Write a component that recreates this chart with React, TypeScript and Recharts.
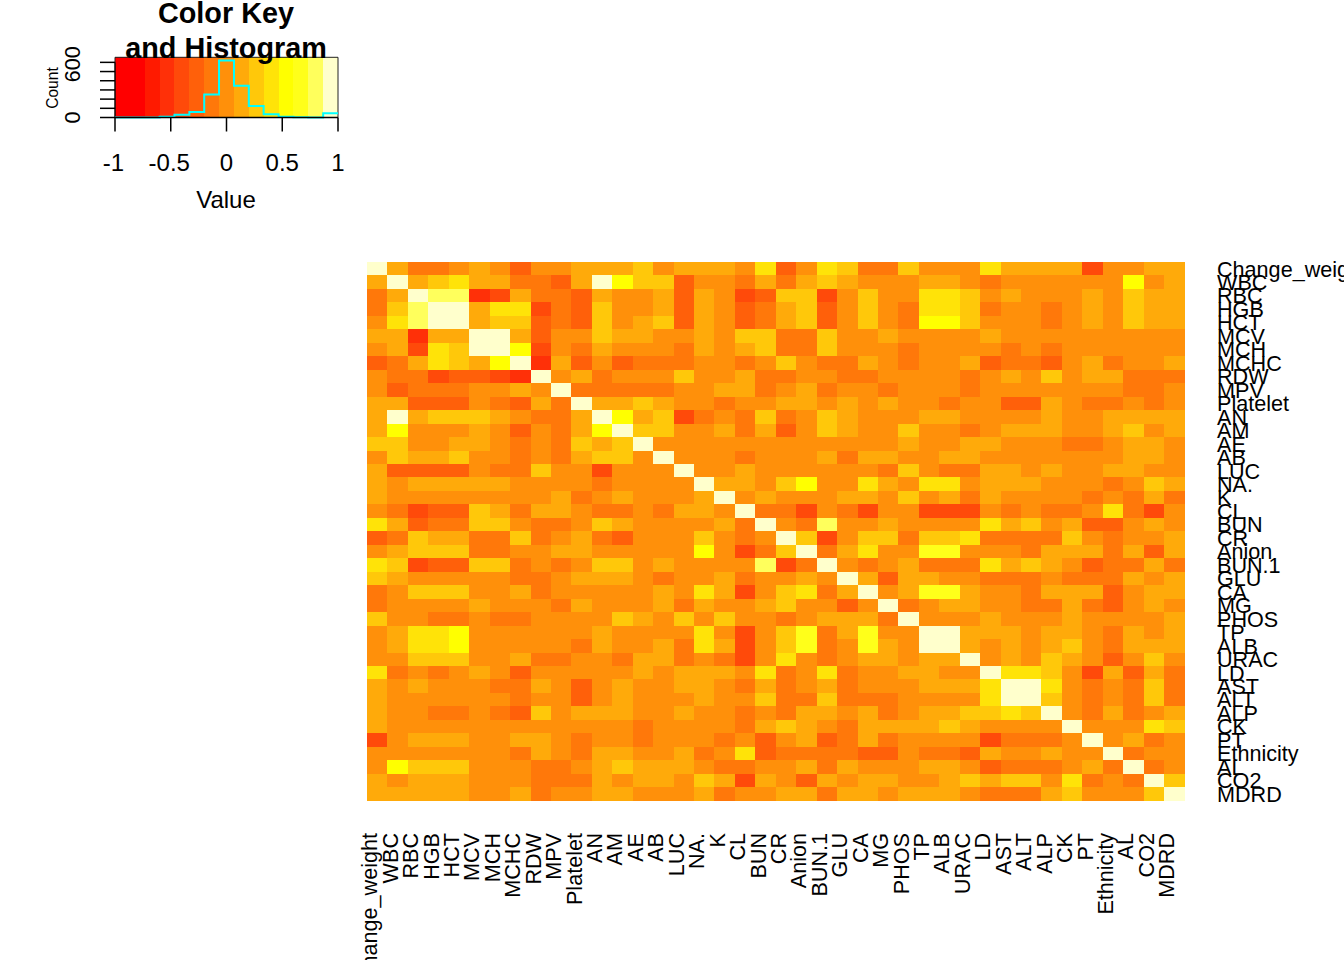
import React from "react";
import {
  ComposedChart,
  ScatterChart,
  Scatter,
  Line,
  XAxis,
  YAxis,
  ReferenceArea,
  ReferenceLine,
} from "recharts";

const variables = [
  "Change_weight", "WBC", "RBC", "HGB", "HCT", "MCV", "MCH", "MCHC", "RDW", "MPV",
  "Platelet", "AN", "AM", "AE", "AB", "LUC", "NA.", "K", "CL", "BUN",
  "CR", "Anion", "BUN.1", "GLU", "CA", "MG", "PHOS", "TP", "ALB", "URAC",
  "LD", "AST", "ALT", "ALP", "CK", "PT", "Ethnicity", "AL", "CO2", "MDRD",
];

// Correlations x 100: each row starts at the diagonal (the matrix is symmetric).
const upperTriangle: number[][] = [
  [100,13,-13,-13,0,13,0,-27,0,0,13,13,13,27,0,13,13,13,0,40,-27,0,40,27,-13,-13,27,0,0,0,40,13,13,13,13,-40,0,0,13,13],
  [100,13,27,40,13,13,-13,-13,-27,13,100,53,27,27,-27,0,0,-13,13,-13,13,27,13,0,0,0,13,13,0,-13,0,0,0,0,0,0,53,0,13],
  [100,80,80,-53,-40,13,-13,-13,-27,13,0,0,13,-27,13,0,-40,-27,27,27,-40,0,27,0,0,40,40,27,0,13,0,0,0,13,0,27,13,13],
  [100,100,13,40,40,-40,-13,-27,27,0,0,13,-27,13,0,-27,-13,13,27,-27,0,27,0,-13,40,40,27,-13,0,0,-13,0,13,0,27,13,13],
  [100,13,27,27,-27,-13,-27,27,0,13,27,-27,13,0,-27,-13,13,27,-27,0,27,0,-13,53,53,27,0,0,0,-13,0,13,0,27,13,13],
  [100,100,13,-27,0,0,27,13,13,0,0,13,0,27,27,-13,-13,27,0,0,13,0,0,0,0,13,0,0,0,0,0,0,0,0,0],
  [100,53,-40,0,-13,13,0,0,0,-13,13,0,13,27,-13,-13,27,0,0,0,-13,0,0,0,0,-13,0,-13,0,0,0,0,0,0],
  [100,-53,13,-27,0,-27,-13,-13,-13,0,0,-13,0,27,0,-13,-13,13,0,-13,0,0,13,-27,-13,-13,-27,0,13,-13,0,0,13],
  [100,0,13,-13,0,0,0,27,0,0,13,-13,-13,0,0,-13,-13,0,0,0,0,-13,0,13,0,27,0,13,13,-13,-13,-13],
  [100,-13,-13,-13,-13,-13,0,0,13,13,-13,0,13,-13,0,0,-13,0,0,0,-13,0,0,0,0,0,0,0,-13,-13,0],
  [100,13,13,27,13,0,0,-13,0,0,13,13,0,13,0,13,0,0,-13,0,0,-27,-27,13,0,-13,-13,0,-13,0],
  [100,53,13,27,-40,-13,0,-13,27,-13,0,27,13,0,0,0,13,13,0,0,0,0,13,0,0,13,13,13,13],
  [100,27,27,0,0,13,-13,13,-27,0,27,13,0,0,27,0,0,-13,0,13,13,13,0,0,13,27,0,13],
  [100,0,0,0,0,0,0,0,0,0,0,0,0,13,0,0,13,13,0,0,0,-13,-13,0,13,13,0],
  [100,0,0,0,-13,0,0,0,13,-13,13,13,0,0,13,13,0,0,0,0,0,0,0,13,13,0],
  [100,0,0,13,0,0,0,0,0,0,-13,27,0,-13,-13,13,13,0,13,0,0,13,13,0,0],
  [100,13,13,0,27,53,0,0,40,13,0,40,40,0,13,13,13,0,0,0,-13,0,27,13],
  [100,0,13,0,0,0,13,13,0,27,0,13,-13,13,0,0,0,0,-13,0,-13,13,-13],
  [100,-13,-13,-40,0,-13,-40,0,0,-40,-40,-40,0,-13,0,-13,-13,0,40,-13,-40,0],
  [100,0,-13,80,0,0,13,0,0,0,0,40,13,27,0,13,-27,-27,0,13,0],
  [100,27,-40,0,27,27,-13,27,27,40,-13,-13,-13,-13,27,0,-13,0,0,13],
  [100,-13,13,40,0,0,67,67,0,0,0,-13,13,13,13,-13,13,-27,13],
  [100,0,-13,0,13,-13,-13,-13,40,13,27,13,0,-27,-13,-13,13,-13],
  [100,13,-27,13,13,0,0,-13,-13,-13,0,-13,-13,-13,13,0,13],
  [100,0,13,67,67,13,0,0,-13,13,13,13,-27,0,13,13],
  [100,-13,0,13,13,0,0,-13,-13,13,-13,-27,0,13,0],
  [100,0,0,0,13,0,0,0,13,0,0,0,0,13],
  [100,100,13,13,13,0,13,13,0,-13,13,0,13],
  [100,13,0,13,0,13,27,0,-13,13,13,13],
  [100,0,13,0,27,13,0,-27,0,27,0],
  [100,40,40,27,0,-40,13,-27,13,-13],
  [100,100,40,0,-13,0,-13,27,-13],
  [100,27,0,-13,0,-13,27,-13],
  [100,0,-13,13,-13,0,13],
  [100,0,0,0,40,27],
  [100,0,13,-13,0],
  [100,-13,0,0],
  [100,-13,0],
  [100,27],
  [100],
];

const keyColors = [
  "#FF0000", "#FF0000", "#FF1A00", "#FF3008", "#FF4A0A", "#FF600A", "#FF780A", "#FF900A",
  "#FFAA0A", "#FFC80A", "#FFE308", "#FFFF00", "#FFFF1A", "#FFFF5C", "#FFFFCC",
];
const keyBreaks = [
  -1, -0.867, -0.733, -0.6, -0.467, -0.333, -0.2, -0.067, 0.067, 0.2, 0.333, 0.467, 0.6, 0.733, 0.867, 1,
];
const histCounts = [0, 0, 1, 7, 30, 60, 250, 620, 345, 125, 35, 8, 2, 1, 47];
const keyXTicks = [-1, -0.5, 0, 0.5, 1];
const keyYTicks = [0, 100, 200, 300, 400, 500, 600];
const keyYLabels = [0, 600];

const HEAT = { left: 367, top: 262, right: 1184.5, bottom: 800.7 };
const CELL_W = (HEAT.right - HEAT.left) / variables.length;
const CELL_H = (HEAT.bottom - HEAT.top) / variables.length;
const FONT = '"Liberation Sans", Arial, sans-serif';

const cellValue = (i: number, j: number) =>
  i <= j ? upperTriangle[i][j - i] / 100 : upperTriangle[j][i - j] / 100;

const colorOf = (v: number) => {
  const idx = keyBreaks.findIndex((b, k) => k < keyColors.length && v < keyBreaks[k + 1]);
  return keyColors[idx < 0 ? keyColors.length - 1 : idx];
};

const cells = variables.flatMap((_, i) =>
  variables.map((__, j) => ({ col: j + 0.5, row: i + 0.5, value: cellValue(i, j) }))
);
const positions = variables.map((_, i) => i + 0.5);
const histData = keyBreaks.map((edge, k) => ({
  edge,
  count: histCounts[Math.min(k, histCounts.length - 1)],
}));

const HeatCell = (props: any) => (
  <rect
    x={props.cx - CELL_W / 2}
    y={props.cy - CELL_H / 2}
    width={CELL_W + 0.4}
    height={CELL_H + 0.4}
    fill={colorOf(props.payload.value)}
    shapeRendering="crispEdges"
  />
);

const BottomTick = (props: any) => {
  const label = variables[Math.floor(props.payload.value)];
  return (
    <text
      transform={`translate(${props.x},833) rotate(-90)`}
      textAnchor="end"
      fontFamily={FONT}
      fontSize={21.6}
      fill="#000"
    >
      {label}
    </text>
  );
};

const RightTick = (props: any) => {
  const label = variables[Math.floor(props.payload.value)];
  return (
    <text x={1217} y={props.y + 7.8} textAnchor="start" fontFamily={FONT} fontSize={21.6} fill="#000">
      {label}
    </text>
  );
};

const KeyXTick = (props: any) => (
  <text x={props.x - (props.payload.value < 0 ? 1.5 : 0)} y={170.5} textAnchor="middle" fontFamily={FONT} fontSize={24} fill="#000">
    {props.payload.value}
  </text>
);

const KeyYTick = (props: any) =>
  keyYLabels.includes(props.payload.value) ? (
    <text
      transform={`translate(80,${props.y + (props.payload.value > 0 ? 2 : 0)}) rotate(-90)`}
      textAnchor="middle"
      fontFamily={FONT}
      fontSize={21.6}
      fill="#000"
    >
      {props.payload.value}
    </text>
  ) : (
    <g />
  );

export default function App() {
  return (
    <div style={{ position: "absolute", left: 0, top: 0, width: 1344, height: 960, overflow: "hidden", background: "#fff" }}>
      <div style={{ position: "absolute", left: 0, top: 0 }}>
        <ScatterChart
          width={1344}
          height={960}
          margin={{ left: HEAT.left, top: HEAT.top, right: 0, bottom: 0 }}
        >
          <XAxis
            type="number"
            dataKey="col"
            domain={[0, variables.length]}
            ticks={positions}
            interval={0}
            height={960 - HEAT.bottom}
            axisLine={false}
            tickLine={false}
            tick={<BottomTick />}
          />
          <YAxis
            type="number"
            dataKey="row"
            orientation="right"
            reversed
            domain={[0, variables.length]}
            ticks={positions}
            interval={0}
            width={1344 - HEAT.right}
            axisLine={false}
            tickLine={false}
            tick={<RightTick />}
          />
          <Scatter data={cells} isAnimationActive={false} shape={<HeatCell />} />
        </ScatterChart>
      </div>
      <div style={{ position: "absolute", left: 0, top: 0 }}>
        <ComposedChart
          width={360}
          height={220}
          data={histData}
          margin={{ left: 0, top: 57.3, right: 22, bottom: 0 }}
        >
          <XAxis
            type="number"
            dataKey="edge"
            domain={[-1, 1]}
            ticks={keyXTicks}
            interval={0}
            height={102.5}
            tickSize={14}
            axisLine={{ stroke: "#000", strokeWidth: 1.5 }}
            tickLine={{ stroke: "#000", strokeWidth: 1.5 }}
            tick={<KeyXTick />}
          />
          <YAxis
            type="number"
            domain={[0, 655]}
            ticks={keyYTicks}
            interval={0}
            width={115}
            tickSize={15}
            axisLine={false}
            tickLine={{ stroke: "#000", strokeWidth: 1.5 }}
            tick={<KeyYTick />}
          />
          {keyColors.map((c, k) => (
            <ReferenceArea
              key={k}
              x1={keyBreaks[k]}
              x2={keyBreaks[k + 1]}
              y1={0}
              y2={655}
              fill={c}
              fillOpacity={1}
              stroke="none"
              shapeRendering="crispEdges"
            />
          ))}
          <ReferenceArea x1={-1} x2={1} y1={0} y2={655} fill="none" stroke="#222" strokeWidth={1} />
          <ReferenceLine segment={[{ x: -1, y: 0 }, { x: -1, y: 600 }]} stroke="#000" />
          <Line
            type="stepAfter"
            dataKey="count"
            stroke="#00FFFF"
            strokeWidth={2}
            dot={false}
            isAnimationActive={false}
          />
        </ComposedChart>
      </div>
      <svg width={360} height={220} style={{ position: "absolute", left: 0, top: 0, pointerEvents: "none" }}>
        <text x={226} y={22.5} textAnchor="middle" fontFamily={FONT} fontWeight="bold" fontSize={28.8}>Color Key</text>
        <text x={226} y={57.5} textAnchor="middle" fontFamily={FONT} fontWeight="bold" fontSize={28.8}>and Histogram</text>
        <text x={226} y={207.5} textAnchor="middle" fontFamily={FONT} fontSize={24}>Value</text>
        <text transform="translate(57.5,88) rotate(-90)" textAnchor="middle" fontFamily={FONT} fontSize={15.6}>Count</text>
      </svg>
    </div>
  );
}
